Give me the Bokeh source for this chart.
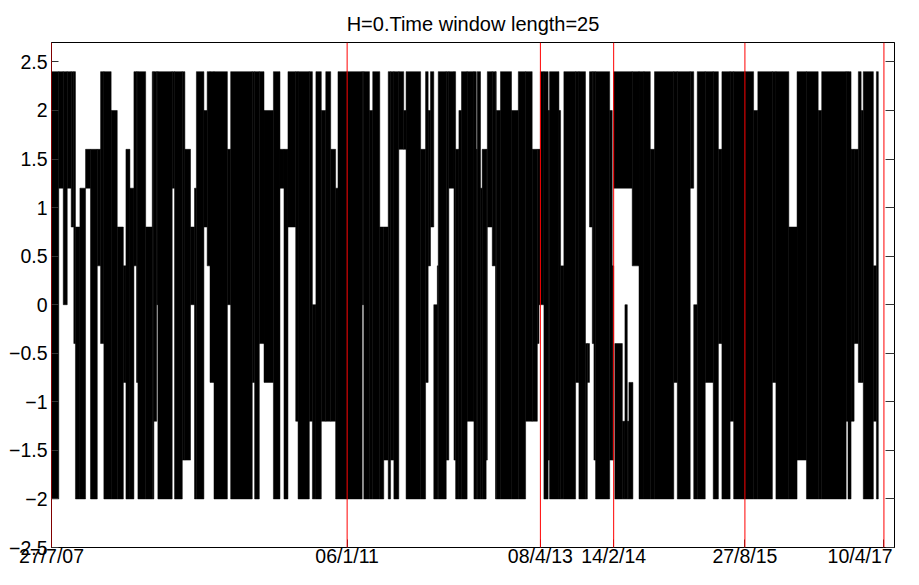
import pandas as pd
from bokeh.plotting import figure
from bokeh.models import Span, FixedTicker, CustomJSTickFormatter, LinearAxis, Range1d
from bokeh.embed import file_html
from bokeh.resources import INLINE

title_text = "H=0.Time window length=25"

# x axis: tick dates (also the dates of the red break lines) and their labels
tick_dates = ["2007-07-27", "2011-01-06", "2013-04-08", "2014-02-14", "2015-08-27", "2017-04-10"]
tick_labels = ["27/7/07", "06/1/11", "08/4/13", "14/2/14", "27/8/15", "10/4/17"]
x_end_date = "2017-05-25"

# y axis
y_ticks = [-2.5, -2, -1.5, -1, -0.5, 0, 0.5, 1, 1.5, 2, 2.5]
y_min, y_max = -2.5, 2.7

# The series swings between the levels -2.0 ... 2.4 so densely that it is read here
# as blocks: (first day, last day, highest value, lowest value), days since 27/7/07.
blocks_2007_2011 = [
    (0, 31, 2.4, -2.0), (31, 50, 2.4, 1.2), (50, 67, 2.4, 0.0), (67, 84, 2.4, 1.2),
    (84, 95, 2.4, 0.8), (95, 102, 2.4, -0.4), (102, 121, 0.8, -2.0), (121, 145, 1.2, -2.0),
    (145, 166, 1.6, 1.2), (166, 195, 1.6, -2.0), (195, 209, 1.6, 0.4), (209, 223, 2.4, -0.4),
    (223, 254, 2.4, -2.0), (254, 280, 2.0, -2.0), (280, 306, 0.8, -2.0), (306, 317, 0.4, -0.8),
    (317, 334, 1.6, -2.0), (334, 351, 1.2, -2.0), (351, 362, 2.4, 0.4), (362, 368, 2.4, -0.8),
    (368, 401, 2.4, -2.0), (401, 429, 0.8, -2.0), (429, 436, 2.4, -2.0), (436, 448, 2.4, -1.2),
    (448, 453, 2.4, 0.0), (453, 514, 2.4, -2.0), (514, 524, 2.4, 1.2), (524, 557, 2.4, -2.0),
    (557, 568, 2.4, -1.6), (568, 592, 1.6, -1.6), (592, 609, 0.8, 0.0), (609, 617, 1.2, -2.0),
    (617, 649, 2.4, -2.0), (649, 663, 2.0, 0.8), (663, 675, 2.4, 0.4), (675, 692, 2.4, -0.8),
    (692, 749, 2.4, -2.0), (749, 763, 1.6, 0.0), (763, 855, 2.4, -2.0), (855, 865, 2.4, -0.8),
    (865, 885, 2.4, -2.0), (885, 905, 2.4, -0.4), (905, 945, 2.0, -0.8), (945, 973, 2.4, -2.0),
    (973, 990, 1.6, 1.2), (990, 1007, 1.6, -2.0), (1007, 1040, 2.4, 0.8), (1040, 1050, 2.4, -1.2),
    (1050, 1098, 2.4, -2.0), (1098, 1111, 2.4, -1.2), (1111, 1126, 0.0, -2.0), (1126, 1149, 2.4, -2.0),
    (1149, 1168, 2.0, -1.2), (1168, 1189, 2.4, -1.2), (1189, 1210, 1.6, -1.2), (1210, 1220, 1.2, -2.0),
    (1220, 1259, 2.4, -2.0),
]

blocks_2011_2013 = [
    (1259, 1323, 2.4, -2.0), (1323, 1330, 2.4, 0.0), (1330, 1354, 2.4, -2.0), (1354, 1368, 2.0, -2.0),
    (1368, 1398, 2.4, -2.0), (1398, 1415, 0.8, -2.0), (1415, 1434, 0.8, -1.6), (1434, 1444, 2.4, -2.0),
    (1444, 1458, 2.4, -1.6), (1458, 1479, 2.4, -2.0), (1479, 1500, 2.4, 1.6), (1500, 1510, 2.0, 1.6),
    (1510, 1572, 2.4, -2.0), (1572, 1593, 1.6, -2.0), (1593, 1604, 2.4, -0.8), (1604, 1614, 2.0, 0.4),
    (1614, 1628, 2.4, 0.8), (1628, 1643, 0.0, -2.0), (1643, 1647, 0.4, -2.0), (1647, 1681, 2.4, -2.0),
    (1681, 1692, 2.4, -1.6), (1692, 1714, 2.4, 1.2), (1714, 1721, 2.4, -1.6), (1721, 1735, 1.6, -2.0),
    (1735, 1746, 2.0, -2.0), (1746, 1770, 2.4, -2.0), (1770, 1799, 2.4, -1.2), (1799, 1809, 2.4, -2.0),
    (1809, 1813, 1.6, -2.0), (1813, 1827, 2.4, -2.0), (1827, 1834, 1.2, -2.0), (1834, 1851, 1.6, -2.0),
    (1851, 1856, 1.6, -1.6), (1856, 1877, 2.4, 0.8), (1877, 1891, 2.4, 0.4), (1891, 1894, 2.4, -2.0),
    (1894, 1912, 2.0, -2.0), (1912, 1959, 2.4, -2.0), (1959, 1988, 2.0, -2.0), (1988, 2019, 2.4, -2.0),
    (2019, 2047, 2.4, -1.2), (2047, 2069, 1.6, -1.2), (2069, 2076, 1.6, -0.4), (2076, 2082, 1.6, 0.0),
]

blocks_2013_2014 = [
    (2082, 2097, 2.4, 0.0), (2097, 2115, 2.4, -2.0), (2115, 2121, 2.0, -1.6), (2121, 2161, 2.4, -2.0),
    (2161, 2168, 2.0, -2.0), (2168, 2182, 0.4, -2.0), (2182, 2232, 2.4, -2.0), (2232, 2246, 2.4, -0.8),
    (2246, 2274, 2.4, -2.0), (2274, 2282, -0.4, -2.0), (2282, 2291, -0.4, -0.8), (2291, 2303, 2.4, 0.8),
    (2303, 2310, 2.4, -0.4), (2310, 2317, 2.4, -1.6), (2317, 2377, 2.4, -2.0), (2377, 2388, 2.0, -1.6),
    (2388, 2394, 0.4, -1.6),
]

blocks_2014_2015 = [
    (2394, 2473, 2.4, 1.2), (2399, 2431, -0.4, -2.0), (2431, 2442, -1.2, -2.0), (2442, 2452, 0.0, -2.0),
    (2452, 2459, -1.2, -2.0), (2459, 2476, -0.8, -2.0), (2473, 2502, 2.4, 0.4), (2502, 2523, 2.4, -2.0),
    (2523, 2550, 2.4, -2.0), (2550, 2568, 1.6, -2.0), (2568, 2650, 2.4, -2.0), (2650, 2665, 2.4, -0.8),
    (2665, 2720, 2.4, -2.0), (2720, 2735, 2.4, 1.2), (2735, 2750, 0.0, -2.0), (2750, 2784, 2.4, -2.0),
    (2784, 2818, 2.4, -0.8), (2818, 2840, 2.4, -2.0), (2840, 2855, 1.6, -0.4), (2855, 2890, 2.4, -2.0),
    (2890, 2905, 2.4, -1.2), (2905, 2953, 2.4, -2.0),
]

blocks_2015_2017 = [
    (2953, 2990, 2.4, -2.0), (2990, 3008, 2.0, -2.0), (3008, 3070, 2.4, -2.0), (3070, 3085, 2.4, -0.8),
    (3085, 3140, 2.4, -2.0), (3140, 3175, 0.8, -2.0), (3175, 3215, 2.4, -1.6), (3215, 3265, 2.4, -2.0),
    (3265, 3280, 2.0, -2.0), (3280, 3384, 2.4, -2.0), (3384, 3392, 2.4, -1.2), (3392, 3405, 2.4, -2.0),
    (3405, 3418, 1.6, -1.2), (3418, 3436, 1.6, -0.4), (3436, 3448, 2.4, -0.8), (3448, 3457, 2.0, -0.8),
    (3457, 3500, 2.4, -2.0), (3500, 3513, 0.4, -1.2), (3513, 3521, 2.4, -2.0),
]

origin = pd.Timestamp(tick_dates[0])
tick_days = [int((pd.Timestamp(d) - origin).days) for d in tick_dates]
x_end = int((pd.Timestamp(x_end_date) - origin).days)

blocks = blocks_2007_2011 + blocks_2011_2013 + blocks_2013_2014 + blocks_2014_2015 + blocks_2015_2017

FONT = "Liberation Sans"

p = figure(width=903, height=569, output_backend="svg", toolbar_location=None,
           x_range=Range1d(0, x_end), y_range=Range1d(y_min, y_max),
           min_border_left=51, min_border_right=9, min_border_top=42, min_border_bottom=10,
           title=title_text)

p.title.align = "center"
p.title.text_font = FONT
p.title.text_font_size = "20px"
p.title.text_font_style = "normal"
p.title.text_color = "black"
p.title.standoff = 16

p.quad(left=[b[0] for b in blocks], right=[b[1] for b in blocks],
       top=[b[2] for b in blocks], bottom=[b[3] for b in blocks],
       fill_color="black", line_color="black", line_width=0.5)

for d in tick_days:
    p.add_layout(Span(location=d, dimension="height", line_color="#ff0000", line_width=1))

p.grid.visible = False
p.outline_line_color = "black"
p.outline_line_width = 1
p.background_fill_color = "white"
p.border_fill_color = "white"

# x axis: ticks inside; the last label is padded so it stays inside the canvas
labels = dict(zip(tick_days, tick_labels))
labels[tick_days[-1]] = tick_labels[-1] + "\u00a0" * 2
p.xaxis.ticker = FixedTicker(ticks=tick_days)
p.xaxis.major_label_overrides = labels
p.xaxis.major_label_standoff = -3
p.xaxis.major_tick_in = 8
p.xaxis.major_tick_out = 0

p.yaxis.ticker = FixedTicker(ticks=y_ticks)
p.yaxis.formatter = CustomJSTickFormatter(code="return tick < 0 ? '\u2212' + Math.abs(tick) : String(tick);")
p.yaxis.major_tick_in = 7
p.yaxis.major_tick_out = 0
p.yaxis.major_label_standoff = 4

right_axis = LinearAxis(ticker=FixedTicker(ticks=y_ticks),
                        formatter=CustomJSTickFormatter(code="return '';"),
                        major_tick_in=9, major_tick_out=0, major_label_standoff=0,
                        major_label_text_font_size="0px")
p.add_layout(right_axis, "right")

for ax in p.xaxis + p.yaxis + [right_axis]:
    ax.axis_line_color = "black"
    ax.major_tick_line_color = "#333333"
    ax.minor_tick_line_color = None
    ax.major_label_text_color = "black"
for ax in p.xaxis + p.yaxis:
    ax.major_label_text_font = FONT
    ax.major_label_text_font_size = "19.5px"

open("out.html", "w").write(file_html(p, INLINE))
